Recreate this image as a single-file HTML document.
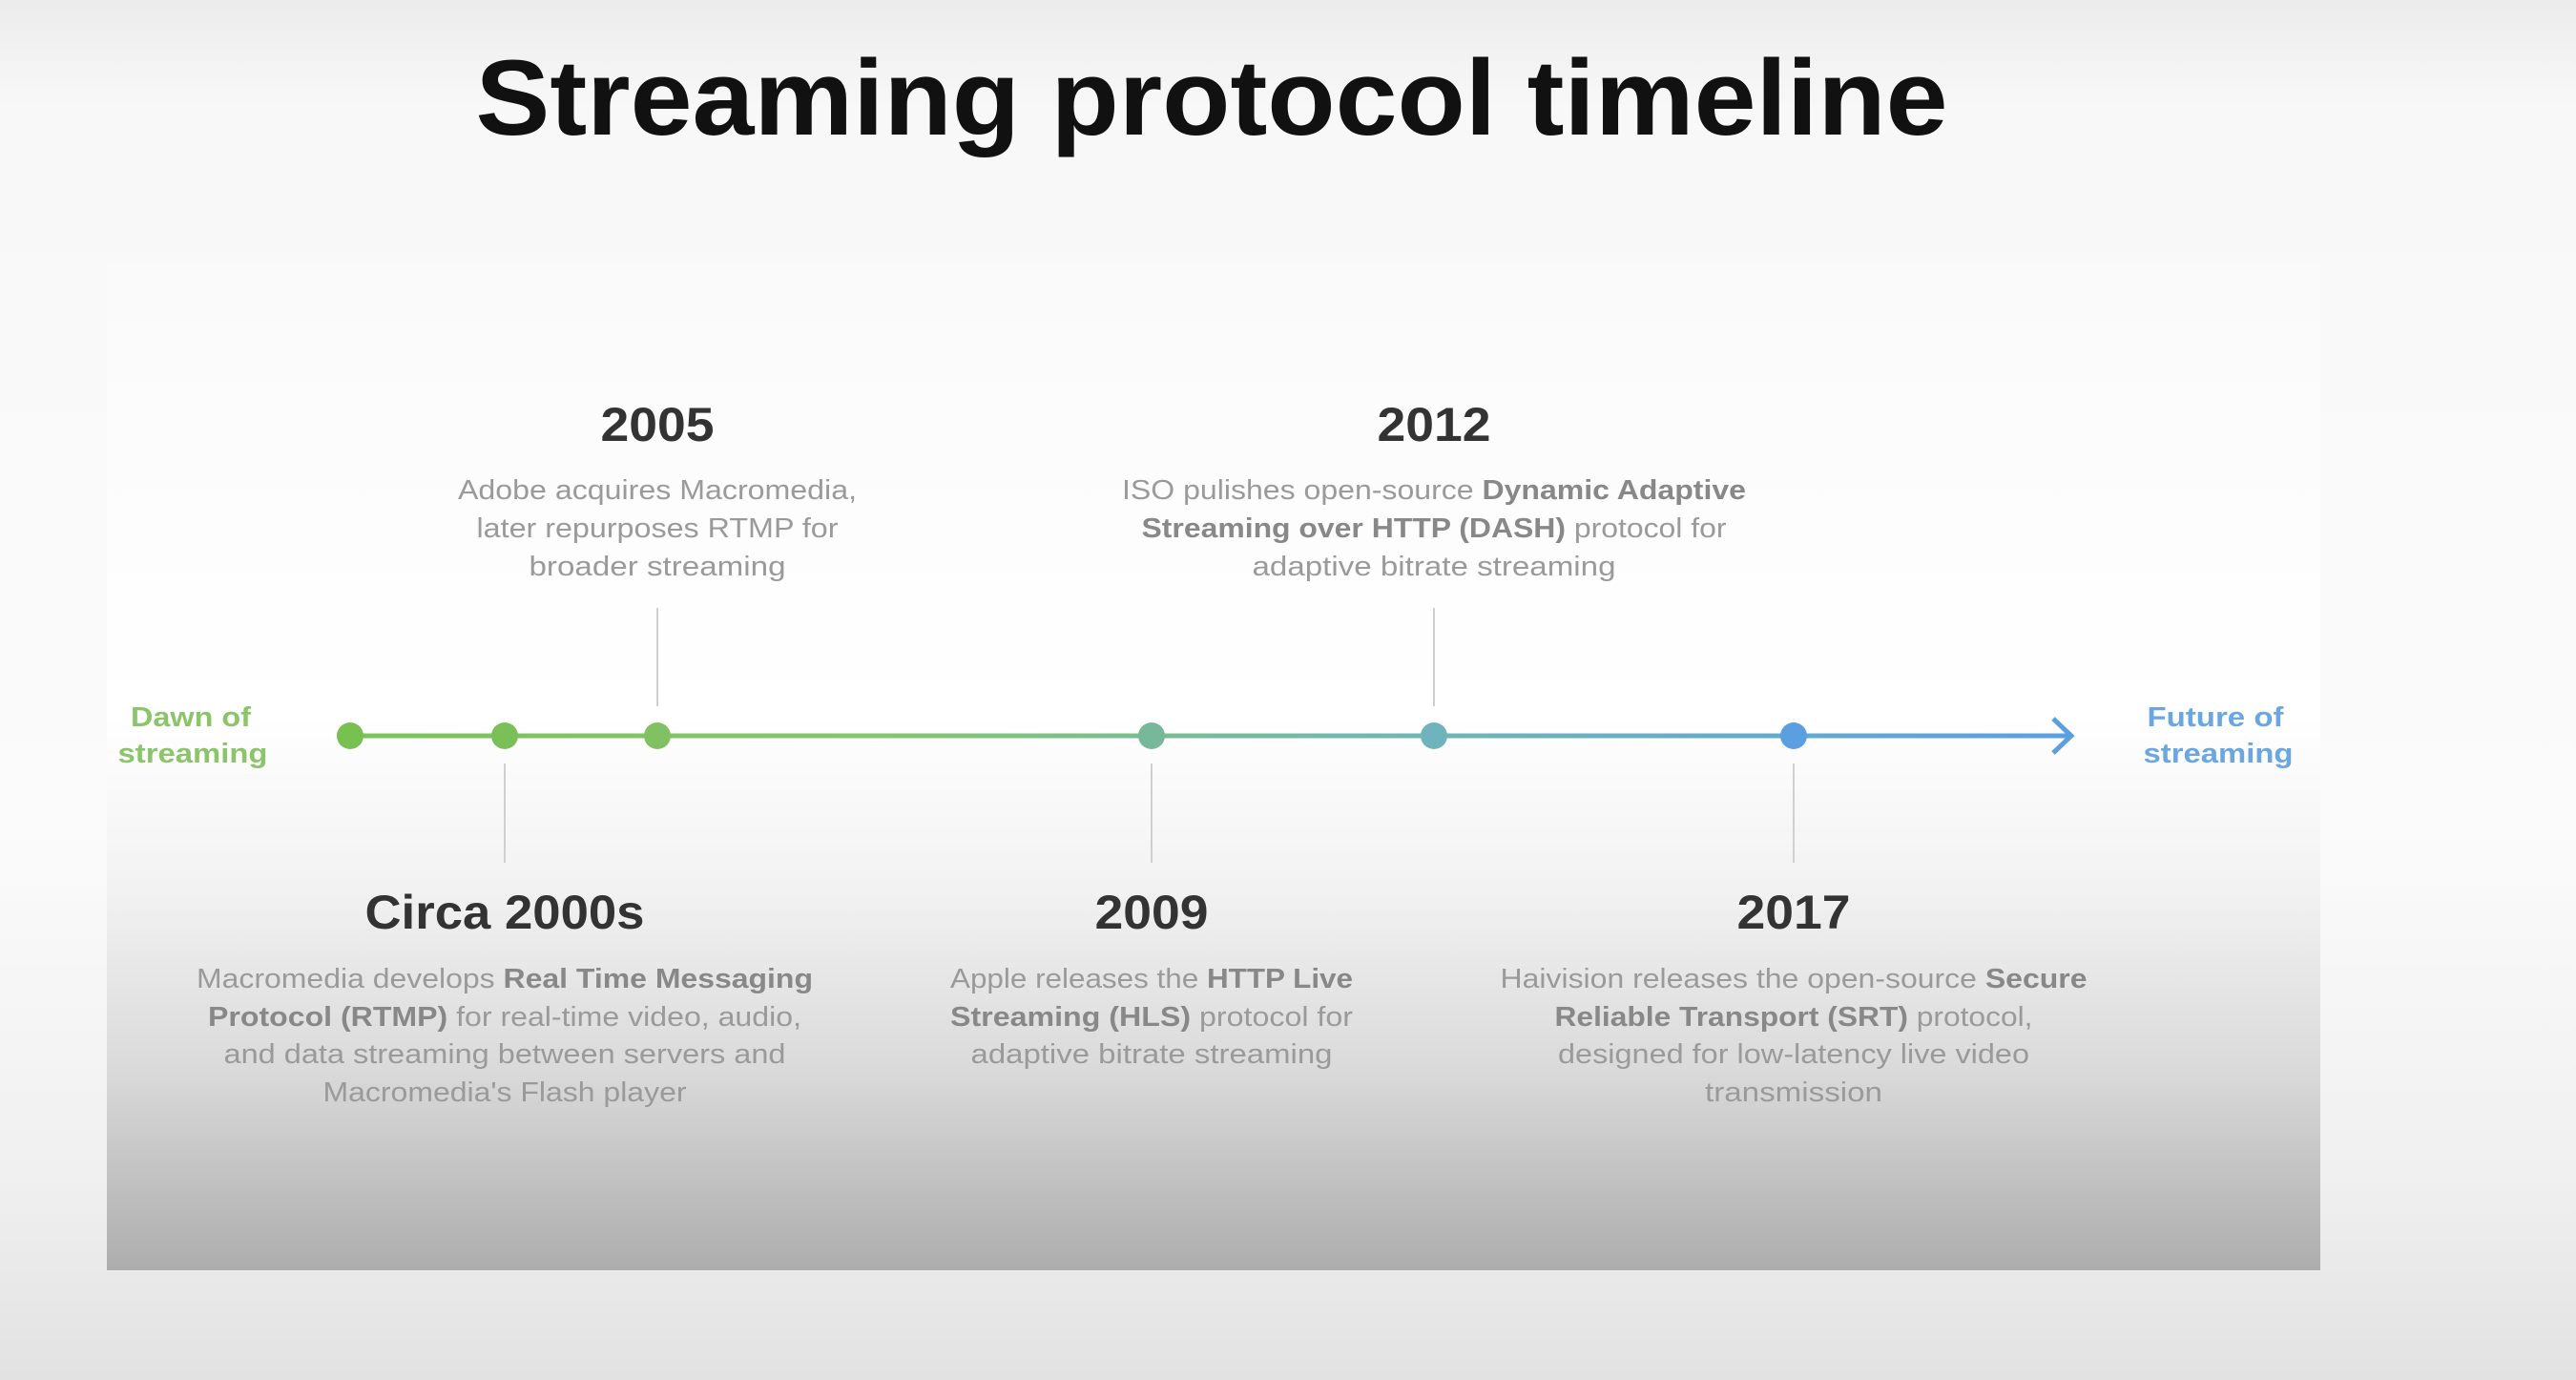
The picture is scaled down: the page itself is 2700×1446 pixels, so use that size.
<!DOCTYPE html>
<html><head><meta charset="utf-8"><style>
html,body{margin:0;padding:0;width:2700px;height:1446px;overflow:hidden;background:#f2f2f2}
svg{display:block}
text{font-family:"Liberation Sans",sans-serif}
</style></head><body>
<svg width="2700" height="1446" viewBox="0 0 2700 1446" xmlns="http://www.w3.org/2000/svg">
<defs>
<linearGradient id="bg" x1="0" y1="0" x2="0" y2="1">
<stop offset="0" stop-color="#ececec"/><stop offset="0.08" stop-color="#f8f8f8"/>
<stop offset="0.6" stop-color="#fbfbfb"/><stop offset="0.85" stop-color="#f0f0f0"/><stop offset="1" stop-color="#e2e2e2"/>
</linearGradient>
<linearGradient id="panel" x1="0" y1="0" x2="0" y2="1">
<stop offset="0" stop-color="#fafafa"/><stop offset="0.45" stop-color="#ffffff"/>
<stop offset="0.62" stop-color="#f2f2f2"/><stop offset="0.8" stop-color="#dadada"/><stop offset="1" stop-color="#adadad"/>
</linearGradient>
<linearGradient id="line" x1="367" y1="0" x2="2173" y2="0" gradientUnits="userSpaceOnUse">
<stop offset="0" stop-color="#7cc35a"/><stop offset="0.3" stop-color="#86c46e"/><stop offset="0.6" stop-color="#72b7b0"/><stop offset="1" stop-color="#5b9fe0"/>
</linearGradient>
</defs>
<rect width="2700" height="1446" fill="url(#bg)"/>
<rect x="112" y="276" width="2320" height="1055" fill="url(#panel)"/>
<text x="1270" y="141" font-size="112" font-weight="bold" fill="#111" text-anchor="middle" textLength="1543" lengthAdjust="spacingAndGlyphs">Streaming protocol timeline</text>

<line x1="367" y1="771" x2="2170" y2="771" stroke="url(#line)" stroke-width="5"/>
<polyline points="2152,753 2171,771 2152,789" fill="none" stroke="#5b9fe0" stroke-width="5"/>
<g stroke="#d0d0d0" stroke-width="2">
<line x1="689" y1="637" x2="689" y2="740"/><line x1="1503" y1="637" x2="1503" y2="740"/>
<line x1="529" y1="800" x2="529" y2="904"/><line x1="1207" y1="800" x2="1207" y2="904"/><line x1="1880" y1="800" x2="1880" y2="904"/>
</g>
<circle cx="367" cy="771" r="14" fill="#78c050"/>
<circle cx="529" cy="771" r="14" fill="#7bbf58"/>
<circle cx="689" cy="771" r="14" fill="#82c064"/>
<circle cx="1207" cy="771" r="14" fill="#78b89a"/>
<circle cx="1503" cy="771" r="14" fill="#6fb3bd"/>
<circle cx="1880" cy="771" r="14" fill="#5b9fe0"/>

<g font-weight="bold" font-size="29" text-anchor="middle" fill="#8cc46a">
<text x="200" y="761" textLength="126" lengthAdjust="spacingAndGlyphs">Dawn of</text>
<text x="202" y="799" textLength="157" lengthAdjust="spacingAndGlyphs">streaming</text>
</g>
<g font-weight="bold" font-size="29" text-anchor="middle" fill="#6aa6e0">
<text x="2322" y="761" textLength="143" lengthAdjust="spacingAndGlyphs">Future of</text>
<text x="2325" y="799" textLength="157" lengthAdjust="spacingAndGlyphs">streaming</text>
</g>

<g font-weight="bold" font-size="50" text-anchor="middle" fill="#333">
<text x="689" y="462" textLength="119" lengthAdjust="spacingAndGlyphs">2005</text>
<text x="1503" y="462" textLength="119" lengthAdjust="spacingAndGlyphs">2012</text>
<text x="529" y="973" textLength="293" lengthAdjust="spacingAndGlyphs">Circa 2000s</text>
<text x="1207" y="973" textLength="119" lengthAdjust="spacingAndGlyphs">2009</text>
<text x="1880" y="973" textLength="119" lengthAdjust="spacingAndGlyphs">2017</text>
</g>

<g font-size="29" text-anchor="middle" fill="#9a9a9a">
<text x="689" y="523" textLength="418" lengthAdjust="spacingAndGlyphs">Adobe acquires Macromedia,</text>
<text x="689" y="563" textLength="379" lengthAdjust="spacingAndGlyphs">later repurposes RTMP for</text>
<text x="689" y="603" textLength="269" lengthAdjust="spacingAndGlyphs">broader streaming</text>

<text x="1503" y="523" textLength="654" lengthAdjust="spacingAndGlyphs">ISO pulishes open-source <tspan font-weight="bold" fill="#888">Dynamic Adaptive</tspan></text>
<text x="1503" y="563" textLength="613" lengthAdjust="spacingAndGlyphs"><tspan font-weight="bold" fill="#888">Streaming over HTTP (DASH)</tspan> protocol for</text>
<text x="1503" y="603" textLength="381" lengthAdjust="spacingAndGlyphs">adaptive bitrate streaming</text>

<text x="529" y="1035" textLength="646" lengthAdjust="spacingAndGlyphs">Macromedia develops <tspan font-weight="bold" fill="#888">Real Time Messaging</tspan></text>
<text x="529" y="1075" textLength="622" lengthAdjust="spacingAndGlyphs"><tspan font-weight="bold" fill="#888">Protocol (RTMP)</tspan> for real-time video, audio,</text>
<text x="529" y="1114" textLength="589" lengthAdjust="spacingAndGlyphs">and data streaming between servers and</text>
<text x="529" y="1154" textLength="381" lengthAdjust="spacingAndGlyphs">Macromedia's Flash player</text>

<text x="1207" y="1035" textLength="422" lengthAdjust="spacingAndGlyphs">Apple releases the <tspan font-weight="bold" fill="#888">HTTP Live</tspan></text>
<text x="1207" y="1075" textLength="422" lengthAdjust="spacingAndGlyphs"><tspan font-weight="bold" fill="#888">Streaming (HLS)</tspan> protocol for</text>
<text x="1207" y="1114" textLength="379" lengthAdjust="spacingAndGlyphs">adaptive bitrate streaming</text>

<text x="1880" y="1035" textLength="615" lengthAdjust="spacingAndGlyphs">Haivision releases the open-source <tspan font-weight="bold" fill="#888">Secure</tspan></text>
<text x="1880" y="1075" textLength="501" lengthAdjust="spacingAndGlyphs"><tspan font-weight="bold" fill="#888">Reliable Transport (SRT)</tspan> protocol,</text>
<text x="1880" y="1114" textLength="494" lengthAdjust="spacingAndGlyphs">designed for low-latency live video</text>
<text x="1880" y="1154" textLength="186" lengthAdjust="spacingAndGlyphs">transmission</text>
</g>
</svg>
</body></html>
